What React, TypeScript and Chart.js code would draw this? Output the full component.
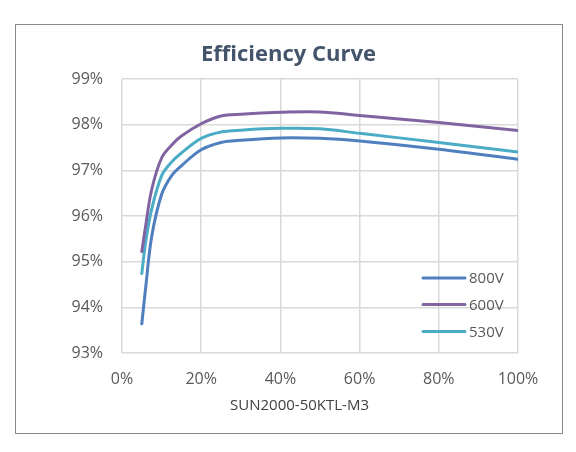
import { useEffect, useRef } from 'react';
import { Chart, registerables } from 'chart.js';

Chart.register(...registerables);

// load ratio (% of rated power) and efficiency (%)
const loadPct = [5, 6, 7.5, 10, 12.5, 15, 20, 25, 30, 40, 50, 60, 80, 100];
const eff800 = [93.64, 94.45, 95.55, 96.47, 96.88, 97.1, 97.45, 97.61, 97.66, 97.71, 97.7, 97.64, 97.46, 97.24];
const eff600 = [95.22, 95.8, 96.58, 97.27, 97.55, 97.75, 98.02, 98.19, 98.23, 98.27, 98.28, 98.2, 98.05, 97.87];
const eff530 = [94.74, 95.45, 96.15, 96.88, 97.18, 97.38, 97.7, 97.84, 97.88, 97.92, 97.91, 97.81, 97.61, 97.4];
const seriesLabels = ['800V', '600V', '530V'];
const seriesColors = ['#4f7fbf', '#8064a2', '#4bacc6'];

const chartTitle = 'Efficiency Curve';
const xTitle = 'SUN2000-50KTL-M3';

const FONT = '"Open Sans", "Noto Sans", sans-serif';

const decorations = {
  id: 'decorations',
  afterDraw(chart: Chart) {
    const { ctx } = chart;
    ctx.save();

    // outer frame
    ctx.strokeStyle = '#8a8a8a';
    ctx.lineWidth = 1;
    ctx.strokeRect(15.5, 24.5, 547, 409);

    // title
    ctx.fillStyle = '#44546a';
    ctx.font = `bold 22px ${FONT}`;
    ctx.textAlign = 'center';
    ctx.textBaseline = 'alphabetic';
    ctx.fillText(chartTitle, 288.5, 61);

    // x axis title
    ctx.fillStyle = '#404040';
    ctx.font = `15px ${FONT}`;
    ctx.fillText(xTitle, 299.5, 410);

    // legend inside the plot
    ctx.font = `15px ${FONT}`;
    ctx.textAlign = 'left';
    ctx.textBaseline = 'middle';
    const rows = [278, 304.5, 331.5];
    chart.data.datasets.forEach((ds, i) => {
      const y = rows[i];
      ctx.strokeStyle = ds.borderColor as string;
      ctx.lineWidth = 3;
      ctx.lineCap = 'round';
      ctx.beginPath();
      ctx.moveTo(423, y);
      ctx.lineTo(465, y);
      ctx.stroke();
      ctx.fillStyle = '#595959';
      ctx.fillText(ds.label as string, 469, y + 1);
    });

    ctx.restore();
  },
};

export default function App() {
  const canvasRef = useRef<HTMLCanvasElement>(null);
  const chartRef = useRef<Chart | null>(null);

  useEffect(() => {
    if (!canvasRef.current) return;
    if (chartRef.current) chartRef.current.destroy();

    const series = [eff800, eff600, eff530];

    chartRef.current = new Chart(canvasRef.current, {
      type: 'line',
      data: {
        datasets: series.map((vals, i) => ({
          label: seriesLabels[i],
          data: loadPct.map((x, j) => ({ x, y: vals[j] })),
          borderColor: seriesColors[i],
          backgroundColor: seriesColors[i],
          borderWidth: 3,
          borderCapStyle: 'round' as const,
          borderJoinStyle: 'round' as const,
          pointRadius: 0,
          tension: 0.35,
          fill: false,
        })),
      },
      options: {
        responsive: false,
        animation: false,
        layout: { padding: { left: 0, right: 58, top: 79, bottom: 0 } },
        plugins: {
          legend: { display: false },
          title: { display: false },
          tooltip: { enabled: false },
        },
        scales: {
          x: {
            type: 'linear',
            min: 0,
            max: 100,
            ticks: {
              stepSize: 20,
              padding: 17,
              color: '#595959',
              font: { family: FONT, size: 16 },
              callback: (v) => `${v}%`,
            },
            grid: { color: '#d9d9d9', lineWidth: 1.5, drawTicks: false },
            border: { display: false },
            afterFit: (scale) => {
              scale.height = 99;
            },
          },
          y: {
            min: 93,
            max: 99,
            ticks: {
              stepSize: 1,
              padding: 19,
              color: '#595959',
              font: { family: FONT, size: 16 },
              callback: (v) => `${v}%`,
            },
            grid: { color: '#d9d9d9', lineWidth: 1.5, drawTicks: false },
            border: { display: false },
            afterFit: (scale) => {
              scale.width = 122;
            },
          },
        },
      },
      plugins: [decorations],
    });

    return () => {
      if (chartRef.current) {
        chartRef.current.destroy();
        chartRef.current = null;
      }
    };
  }, []);

  return (
    <div style={{ position: 'absolute', left: 0, top: 0, width: 576, height: 452, background: '#fff' }}>
      <canvas ref={canvasRef} width={576} height={452} />
    </div>
  );
}
